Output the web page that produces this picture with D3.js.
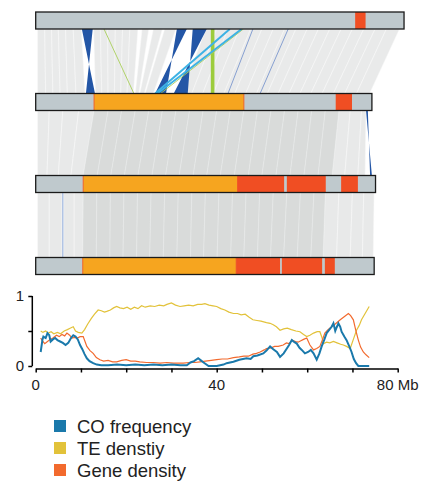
<!DOCTYPE html>
<html>
<head>
<meta charset="utf-8">
<script src="https://cdn.jsdelivr.net/npm/d3@7"></script>
<style>
  body { margin: 0; background: #fff; }
  svg text { font-family: "Liberation Sans", Arial, Helvetica, sans-serif; fill: #222; }
</style>
</head>
<body>
<div id="chart"></div>
<script>
// chromosome lengths (Mb) and coloured segments
var chrLen = [81.4, 74.3, 75.1, 74.8];
var orangeSegs = [[], [[12.9, 46.0]], [[10.5, 44.6]], [[10.4, 44.3]]];
var redSegs = [
  [[70.6, 72.9]],
  [[66.3, 69.9]],
  [[44.6, 54.9], [55.5, 64.1], [67.5, 71.2]],
  [[44.3, 54.0], [54.4, 63.3], [63.9, 66.1]]
];

// synteny blocks [topStart, topEnd, bottomStart, bottomEnd] (Mb)
var grey12 = [
  [0.4, 2.0, 0.4, 2.2], [2.0, 3.5, 2.2, 3.8], [3.5, 5.0, 3.8, 5.4], [5.0, 6.6, 5.4, 7.0],
  [6.6, 8.3, 7.0, 8.9], [8.3, 10.1, 8.9, 10.9],
  [12.8, 14.3, 13.2, 14.6], [14.3, 15.9, 14.6, 16.0], [15.9, 17.6, 16.0, 17.4],
  [17.6, 19.2, 17.4, 18.8], [19.2, 20.8, 18.8, 20.2], [20.8, 22.6, 20.2, 21.6],
  [23.5, 25.0, 22.0, 22.8], [26.0, 28.0, 23.0, 24.0], [28.5, 31.0, 24.2, 26.0],
  [37.6, 40.0, 32.2, 34.5], [40.0, 42.5, 34.5, 36.9], [42.5, 45.0, 36.9, 39.3],
  [45.0, 47.5, 39.3, 41.6], [47.5, 50.0, 41.6, 44.0], [50.0, 52.5, 44.0, 46.4],
  [52.5, 55.0, 46.4, 48.8], [55.0, 57.5, 48.8, 51.2], [57.5, 60.0, 51.2, 53.6],
  [60.0, 62.5, 53.6, 56.0], [62.5, 65.0, 56.0, 58.4], [65.0, 67.5, 58.4, 60.8],
  [67.5, 70.0, 60.8, 63.3], [70.0, 72.5, 63.3, 65.8], [72.5, 75.0, 65.8, 68.3],
  [75.0, 77.5, 68.3, 70.9], [77.5, 80.4, 70.9, 73.8]
];
var light23 = [
  [0.4, 3.0, 0.4, 2.5], [3.0, 6.0, 2.5, 5.0], [6.0, 9.5, 5.0, 7.8], [9.5, 12.9, 7.8, 10.5],
  [67, 69.5, 65.5, 68.3], [69.5, 72.0, 68.3, 71.2], [72.0, 73.0, 71.2, 72.8]
];
var grey23 = [
  [12.9, 16, 10.5, 13.6], [16, 19, 13.6, 16.6], [19, 22, 16.6, 19.6], [22, 25, 19.6, 22.6],
  [25, 28, 22.6, 25.7], [28, 31, 25.7, 28.7], [31, 34, 28.7, 31.7], [34, 37, 31.7, 34.8],
  [37, 40, 34.8, 37.8], [40, 43, 37.8, 40.8], [43, 46, 40.8, 43.9], [46, 49, 43.9, 47.0],
  [49, 52, 47.0, 50.0], [52, 55, 50.0, 53.1], [55, 58, 53.1, 56.2], [58, 61, 56.2, 59.3],
  [61, 64, 59.3, 62.4], [64, 67, 62.4, 65.5]
];
var light34 = [
  [0.4, 3.0, 0.4, 3.0], [3.0, 5.8, 3.0, 5.8], [6.2, 8.5, 6.2, 8.5], [8.5, 10.5, 8.5, 10.4],
  [64, 67, 63.5, 66.5], [67, 70, 66.5, 69.5], [70, 72.5, 69.5, 72.2], [72.5, 74.8, 72.2, 74.6]
];
var grey34 = [
  [10.5, 13.5, 10.4, 13.4], [13.5, 16.5, 13.4, 16.4], [16.5, 19.5, 16.4, 19.3],
  [19.5, 22.5, 19.3, 22.3], [22.5, 25.5, 22.3, 25.2], [25.5, 28.5, 25.2, 28.2],
  [28.5, 31.5, 28.2, 31.2], [31.5, 34.5, 31.2, 34.2], [34.5, 37.5, 34.2, 37.1],
  [37.5, 40.5, 37.1, 40.1], [40.5, 43.5, 40.1, 43.1], [43.5, 46.5, 43.1, 46.0],
  [46.5, 49.5, 46.0, 49.0], [49.5, 52.5, 49.0, 51.9], [52.5, 55.5, 51.9, 54.8],
  [55.5, 58.5, 54.8, 57.8], [58.5, 61.5, 57.8, 60.8], [61.5, 64.0, 60.8, 63.5]
];
var blue12 = [[10.2, 12.6, 13.1, 11.1], [31.2, 33.4, 28.8, 26.4], [34.7, 37.8, 33.6, 30.5]];
var blue23 = [[73.0, 73.4, 74.3, 73.9]];
var greenBand12 = [[38.7, 39.5, 38.7, 39.5]];
// single-line links [top, bottom]
var cyanLines12 = [[42.9, 26.4], [45.5, 26.9]];
var greenLines12 = [[15.1, 21.7], [45.9, 27.6]];
var blueLines12 = [[48.0, 42.5], [55.8, 49.6]];
var blueLines34 = [[6.0, 6.0]];

// density tracks [Mb, value]
var coFreq = [[1.1,0.2],[1.5,0.38],[1.7,0.42],[2.2,0.40],[2.6,0.47],[3.0,0.44],[3.3,0.35],[3.8,0.38],[4.3,0.40],[4.8,0.37],[5.4,0.35],[6.0,0.33],[6.6,0.30],[7.2,0.33],[7.8,0.40],[8.3,0.44],[8.8,0.42],[9.3,0.38],[9.8,0.30],[10.3,0.24],[10.8,0.17],[11.3,0.11],[11.9,0.07],[12.7,0.04],[13.5,0.02],[14.5,0.01],[16,0.01],[18,0.02],[20,0.01],[22,0.02],[24,0.01],[26,0.02],[28,0.01],[30,0.02],[32,0.01],[33.4,0.01],[34.2,0.05],[35.0,0.07],[35.9,0.11],[36.5,0.08],[37.1,0.05],[38.2,0.0],[40,0.0],[41.5,0.02],[42.2,0.04],[43.7,0.06],[45,0.09],[46.6,0.11],[47.5,0.1],[48.1,0.14],[49.0,0.15],[50.3,0.18],[51.0,0.22],[51.8,0.28],[52.5,0.24],[53.3,0.2],[54.0,0.13],[54.8,0.18],[55.5,0.25],[56.0,0.3],[56.6,0.37],[57.2,0.34],[57.7,0.32],[58.3,0.26],[58.8,0.23],[59.5,0.18],[60.2,0.2],[60.8,0.23],[61.4,0.18],[62.1,0.09],[62.7,0.18],[63.2,0.28],[63.8,0.38],[64.3,0.47],[64.9,0.52],[65.4,0.56],[65.8,0.61],[66.2,0.5],[66.5,0.55],[66.9,0.61],[67.3,0.56],[67.6,0.49],[68.2,0.42],[68.7,0.37],[69.3,0.28],[69.8,0.2],[70.3,0.1],[70.8,0.04],[71.3,0.0],[73.7,0.0]];
var teDens = [[1.1,0.5],[1.6,0.48],[2.2,0.5],[2.8,0.47],[3.4,0.49],[4.0,0.46],[4.8,0.48],[5.5,0.46],[6.3,0.5],[7.0,0.52],[7.6,0.54],[8.3,0.56],[8.8,0.5],[9.4,0.48],[10.2,0.47],[10.8,0.52],[11.5,0.6],[12.3,0.68],[13.0,0.74],[13.8,0.8],[14.5,0.79],[15.2,0.77],[15.7,0.78],[16.5,0.8],[17.2,0.83],[17.9,0.85],[18.6,0.83],[19.4,0.82],[20.2,0.84],[21.0,0.81],[21.8,0.84],[22.6,0.82],[23.4,0.86],[24.2,0.84],[25.3,0.86],[26.3,0.85],[27.3,0.87],[28.3,0.86],[29.0,0.88],[30.0,0.9],[30.9,0.87],[31.9,0.85],[32.8,0.86],[33.8,0.87],[34.8,0.86],[35.8,0.88],[36.7,0.88],[37.4,0.89],[38.3,0.87],[39.2,0.86],[40.0,0.85],[40.9,0.82],[41.8,0.8],[42.7,0.77],[43.7,0.75],[44.6,0.75],[45.4,0.73],[46.3,0.74],[47.1,0.7],[48.0,0.66],[48.9,0.65],[49.8,0.64],[51.0,0.62],[51.8,0.61],[52.5,0.59],[53.2,0.56],[54.0,0.51],[54.8,0.53],[55.6,0.54],[56.5,0.52],[57.5,0.5],[58.4,0.49],[59.2,0.45],[59.9,0.42],[60.6,0.44],[61.4,0.47],[62.2,0.49],[62.8,0.49],[63.3,0.4],[63.6,0.32],[64.3,0.34],[65.0,0.33],[65.8,0.35],[66.6,0.33],[67.4,0.31],[68.0,0.3],[68.7,0.28],[69.5,0.25],[70.2,0.38],[70.9,0.51],[71.5,0.58],[72.0,0.66],[72.8,0.75],[73.7,0.85]];
var geneDens = [[1.1,0.4],[1.5,0.36],[2.0,0.32],[2.6,0.35],[3.2,0.38],[3.8,0.4],[4.6,0.44],[5.2,0.42],[5.8,0.45],[6.4,0.43],[6.9,0.47],[7.5,0.44],[8.0,0.40],[8.6,0.41],[9.2,0.4],[9.8,0.42],[10.5,0.42],[10.9,0.35],[11.3,0.28],[12.0,0.22],[12.7,0.18],[13.4,0.12],[14.2,0.09],[15.0,0.07],[16.0,0.08],[17.0,0.06],[17.9,0.06],[19.0,0.08],[20.0,0.09],[21.0,0.07],[22.0,0.07],[23.0,0.06],[24.5,0.05],[26,0.05],[27.5,0.04],[29,0.05],[30.5,0.04],[32.6,0.04],[34.0,0.05],[35.2,0.05],[36.3,0.06],[37.5,0.07],[38.8,0.08],[40.0,0.09],[41.2,0.1],[42.4,0.1],[43.7,0.12],[45.0,0.13],[46.0,0.14],[47.0,0.14],[48.0,0.17],[48.8,0.18],[49.6,0.2],[50.5,0.23],[51.0,0.25],[52.0,0.26],[52.8,0.28],[53.6,0.28],[54.7,0.3],[55.4,0.33],[56.0,0.32],[56.7,0.37],[57.4,0.35],[58.0,0.34],[58.6,0.36],[59.2,0.38],[59.9,0.4],[60.6,0.3],[61.4,0.23],[62.1,0.25],[62.8,0.28],[63.4,0.38],[63.9,0.47],[64.6,0.52],[65.4,0.56],[66.2,0.6],[67.3,0.66],[68.1,0.7],[69.1,0.75],[69.6,0.72],[70.2,0.66],[70.7,0.52],[71.3,0.37],[71.8,0.27],[72.4,0.2],[73.0,0.16],[73.7,0.12]];

var legendLabels = ["CO frequency", "TE denstiy", "Gene density"];
var xTicks = [0, 10, 20, 30, 40, 50, 60, 70, 80];

var width = 421, height = 481;
var svg = d3.select("#chart").append("svg").attr("width", width).attr("height", height);

var x = d3.scaleLinear().domain([0, 80]).range([35.7, 397.7]);
var y = d3.scaleLinear().domain([0, 1]).range([366, 296]);

var barTop = [12, 93.5, 175.5, 257.5];
var barH = 17;

// --- synteny links
var linkPath = function(l, y0, y1) {
  return "M" + x(l[0]) + "," + y0 + "L" + x(l[1]) + "," + y0 +
    "L" + x(l[3]) + "," + y1 + "L" + x(l[2]) + "," + y1 + "Z";
};
var drawBlocks = function(data, i, fill, op, stroke) {
  var y0 = barTop[i] + barH, y1 = barTop[i + 1];
  svg.append("g").selectAll("path").data(data).enter().append("path")
    .attr("d", function(l) { return linkPath(l, y0, y1); })
    .attr("fill", fill).attr("fill-opacity", op)
    .attr("stroke", stroke).attr("stroke-width", 0.5);
};
var drawLines = function(data, i, color, w) {
  var y0 = barTop[i] + barH, y1 = barTop[i + 1];
  svg.append("g").selectAll("line").data(data).enter().append("line")
    .attr("x1", function(l) { return x(l[0]); }).attr("y1", y0)
    .attr("x2", function(l) { return x(l[1]); }).attr("y2", y1)
    .attr("stroke", color).attr("stroke-width", w);
};

drawBlocks(grey12, 0, "#d3d5d5", 0.5, "#fafafa");
drawBlocks(light23, 1, "#d9dbda", 0.6, "#fafafa");
drawBlocks(grey23, 1, "#d9dbda", 1, "#e9eaea");
drawBlocks(light34, 2, "#d9dbda", 0.6, "#fafafa");
drawBlocks(grey34, 2, "#d9dbda", 1, "#e9eaea");
drawBlocks(blue12, 0, "#2356a6", 1, "none");
drawBlocks(blue23, 1, "#2356a6", 1, "none");
drawBlocks(greenBand12, 0, "#9ccc3c", 1, "none");
drawLines(blueLines12, 0, "#5b80c6", 0.7);
drawLines(blueLines34, 2, "#8aa5d6", 1);
drawLines(greenLines12, 0, "#a9cf5a", 0.9);
drawLines(cyanLines12, 0, "#3db2e4", 2);

// --- chromosome bars
var bars = svg.append("g");
chrLen.forEach(function(len, i) {
  var g = bars.append("g");
  g.append("rect").attr("x", x(0)).attr("y", barTop[i])
    .attr("width", x(len) - x(0)).attr("height", barH).attr("fill", "#bfc9cd");
  g.selectAll("rect.te").data(orangeSegs[i]).enter().append("rect").attr("class", "te")
    .attr("x", function(s) { return x(s[0]); }).attr("y", barTop[i])
    .attr("width", function(s) { return x(s[1]) - x(s[0]); }).attr("height", barH)
    .attr("fill", "#f6a51f").attr("stroke", "#f0652a").attr("stroke-width", 1);
  g.selectAll("rect.gene").data(redSegs[i]).enter().append("rect").attr("class", "gene")
    .attr("x", function(s) { return x(s[0]); }).attr("y", barTop[i])
    .attr("width", function(s) { return x(s[1]) - x(s[0]); }).attr("height", barH)
    .attr("fill", "#f04e23");
  g.append("rect").attr("x", x(0)).attr("y", barTop[i])
    .attr("width", x(len) - x(0)).attr("height", barH)
    .attr("fill", "none").attr("stroke", "#1a1a1a").attr("stroke-width", 1.3);
});

// --- density plot
var line = d3.line().x(function(d) { return x(d[0]); }).y(function(d) { return y(d[1]); });
svg.append("path").datum(teDens).attr("d", line).attr("fill", "none")
  .attr("stroke", "#e2c23a").attr("stroke-width", 1.2);
svg.append("path").datum(geneDens).attr("d", line).attr("fill", "none")
  .attr("stroke", "#f26a2e").attr("stroke-width", 1.2);
svg.append("path").datum(coFreq).attr("d", line).attr("fill", "none")
  .attr("stroke", "#1a79ab").attr("stroke-width", 2);

var yAxis = svg.append("g").attr("transform", "translate(32.3,0)")
  .call(d3.axisLeft(y).tickValues([0, 0.5, 1]).tickSize(4).tickFormat(""));
yAxis.select(".domain").attr("stroke-width", 1.5).attr("d", "M0," + y(1) + "V" + y(0));
yAxis.selectAll(".tick line").attr("stroke-width", 1.5);
svg.append("g").selectAll("text").data([0, 1]).enter().append("text")
  .attr("x", 24).attr("y", function(d) { return y(d) + 5; })
  .attr("text-anchor", "end").style("font-size", "15px").text(function(d) { return d; });

var xAxis = svg.append("g").attr("transform", "translate(0,368.5)")
  .call(d3.axisBottom(x).tickValues(xTicks).tickSize(4).tickSizeOuter(0).tickFormat(""));
xAxis.select(".domain").attr("stroke-width", 1.5);
xAxis.selectAll(".tick line").attr("stroke-width", 1.5);
svg.append("g").selectAll("text").data([[0, "0"], [40, "40"], [80, "80 Mb"]]).enter().append("text")
  .attr("x", function(d) { return x(d[0]); }).attr("y", 390)
  .attr("text-anchor", "middle").style("font-size", "15px").text(function(d) { return d[1]; });

// --- legend
var legendColors = ["#1a79ab", "#e2c23a", "#f26a2e"];
var leg = svg.append("g").selectAll("g").data(legendLabels).enter().append("g")
  .attr("transform", function(d, i) { return "translate(54," + (420 + i * 22) + ")"; });
leg.append("rect").attr("width", 12).attr("height", 12)
  .attr("fill", function(d, i) { return legendColors[i]; });
leg.append("text").attr("x", 23).attr("y", 12.5).style("font-size", "18.5px").text(function(d) { return d; });
</script>
</body>
</html>
